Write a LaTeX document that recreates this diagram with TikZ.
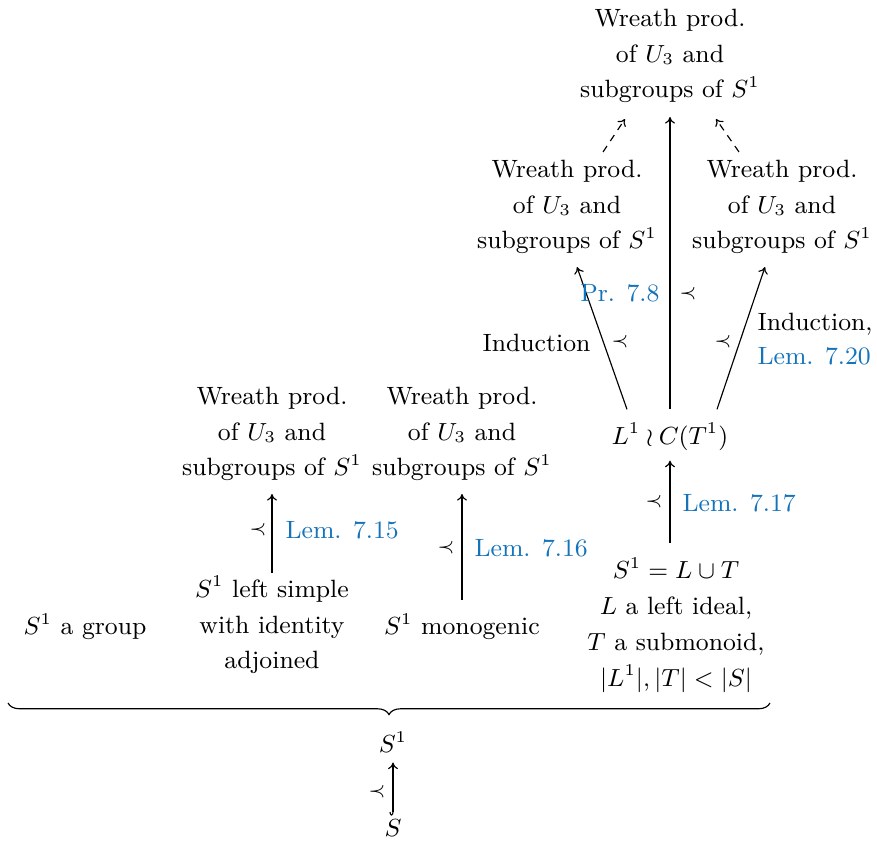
\documentclass[tikz,border=0pt]{standalone}
\usetikzlibrary{arrows.meta,decorations.pathreplacing,calc}
\definecolor{refblue}{RGB}{20,115,185}
\begin{document}
\begin{tikzpicture}[x=0.3636pt,y=-0.3636pt,
  txt/.style={align=center,font=\fontsize{9.1}{13}\selectfont,inner sep=0pt,outer sep=0pt},
  ar/.style={-{To[length=2.4pt,width=3.6pt]},line width=0.42pt},
  dar/.style={ar,dash pattern=on 2.6pt off 2.2pt},
  prc/.style={inner sep=0pt,font=\fontsize{7}{8}\selectfont},
  lab/.style={inner sep=0pt,font=\fontsize{9.1}{12}\selectfont,text=refblue},
  blk/.style={inner sep=0pt,font=\fontsize{9.1}{12}\selectfont}]
\useasboundingbox (0,0) rectangle (877,843);
% nodes
\node[txt] (top) at (670,56) {Wreath prod.\\ of $U_3$ and\\ subgroups of $S^1$};
\node[txt] (ml) at (567,207) {Wreath prod.\\ of $U_3$ and\\ subgroups of $S^1$};
\node[txt] (mr) at (782,207) {Wreath prod.\\ of $U_3$ and\\ subgroups of $S^1$};
\node[txt] (wr) at (670,437) {$L^1 \wr C(T^1)$};
\node[txt] (bl) at (272,434) {Wreath prod.\\ of $U_3$ and\\ subgroups of $S^1$};
\node[txt] (bm) at (462,434) {Wreath prod.\\ of $U_3$ and\\ subgroups of $S^1$};
\node[txt] (grp) at (85,627) {$S^1$ a group};
\node[txt] (ls) at (272,625) {$S^1$ left simple\\ with identity\\ adjoined};
\node[txt] (mono) at (462,627) {$S^1$ monogenic};
\node[txt] (dec) at (676,625) {$S^1 = L \cup T$\\ $L$ a left ideal,\\ $T$ a submonoid,\\ $|L^1|, |T| < |S|$};
\node[txt] (S1) at (393,742) {$S^1$};
\node[txt] (S) at (393,828) {$S$};
% brace
\draw[line width=0.42pt,decorate,decoration={brace,mirror,amplitude=4.2pt}] (8,703) -- (770,703);
% connectors
\draw[ar] ($(ls.north)+(0,-3)$) -- ($(bl.south)+(0,13)$);
\draw[ar] ($(mono.north)+(0,-14)$) -- ($(bm.south)+(0,13)$);
\draw[ar] ($(dec.north -| wr.south)+(0,-15)$) -- ($(wr.south)+(0,10)$);
\draw[ar] ($(wr.north)+(0,-14)$) -- ($(top.south)+(0,14)$);
\draw[ar] ($(wr.north)+(-43,-14)$) -- ($(ml.south)+(10,13)$);
\draw[ar] ($(wr.north)+(47,-14)$) -- ($(mr.south)+(-17,13)$);
\draw[dar] ($(ml.north)+(36,-8)$) -- ($(top.south)+(-45,16)$);
\draw[dar] ($(mr.north)+(-43,-8)$) -- ($(top.south)+(46,16)$);
\draw[{Hooks[right,length=1.3pt,width=2.6pt]}-{To[length=2.4pt,width=3.6pt]},line width=0.42pt] ($(S.north)+(0,-4)$) -- ($(S1.south)+(0,10)$);
% labels
\node[prc] at (258,530) {$\prec$};
\node[prc] at (446,548) {$\prec$};
\node[prc] at (654,502) {$\prec$};
\node[prc] at (688,294) {$\prec$};
\node[prc] at (620,342) {$\prec$};
\node[prc] at (723,342) {$\prec$};
\node[prc] at (377,792) {$\prec$};
\node[lab,anchor=west] at (285,530) {Lem. 7.15};
\node[lab,anchor=west] at (474,548) {Lem. 7.16};
\node[lab,anchor=west] at (682,503) {Lem. 7.17};
\node[lab,anchor=east] at (660,293) {Pr. 7.8};
\node[blk,anchor=east] at (591,343) {Induction};
\node[blk,anchor=west] at (757,324) {Induction,};
\node[lab,anchor=west] at (757,356) {Lem. 7.20};
\end{tikzpicture}
\end{document}
